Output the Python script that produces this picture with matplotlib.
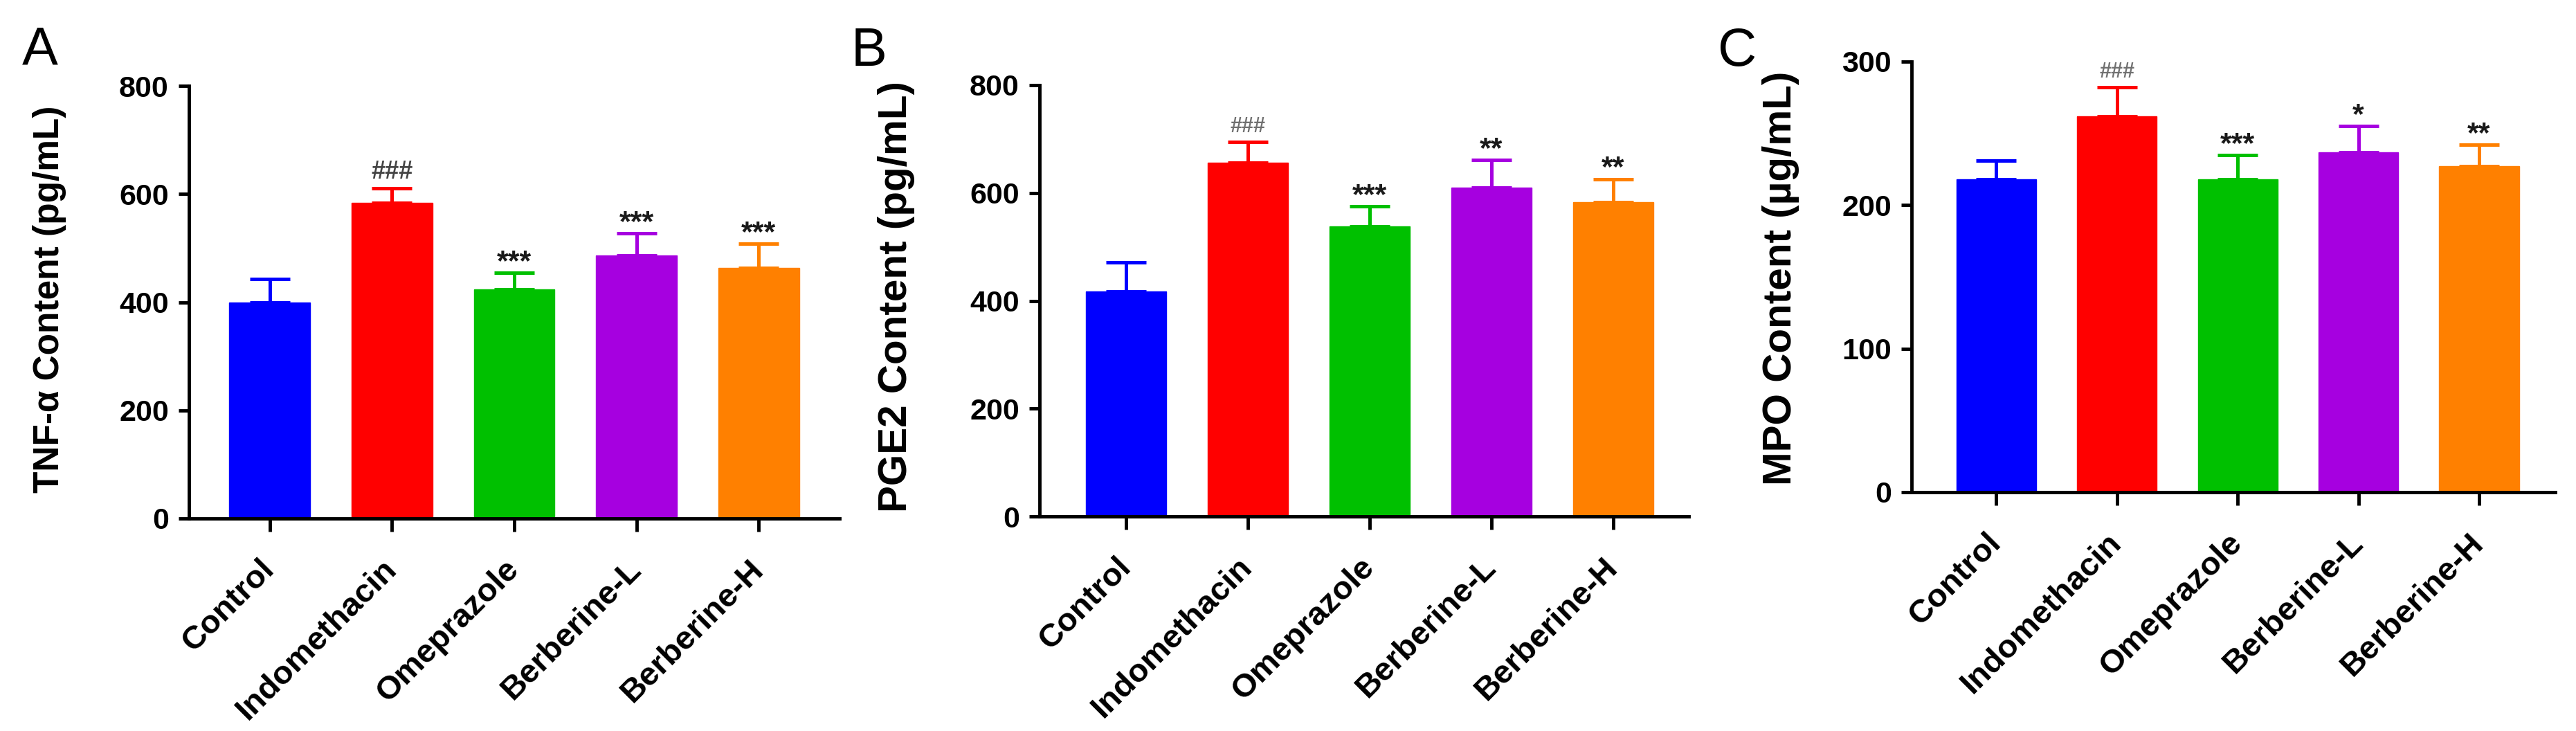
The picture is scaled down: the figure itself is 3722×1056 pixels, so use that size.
import matplotlib
matplotlib.use("Agg")
import matplotlib.pyplot as plt
import matplotlib.transforms as mtransforms

plt.rcParams['font.family'] = ['Liberation Sans', 'DejaVu Sans']

groups = ["Control", "Indomethacin", "Omeprazole", "Berberine-L", "Berberine-H"]
colors = ["#0000FF", "#FF0000", "#00C000", "#A600E0", "#FF8000"]

tnf_mean = [400, 584, 424, 487, 463]
tnf_sem = [43, 27, 30, 40, 45]
tnf_marks = ["", "###", "***", "***", "***"]

pge2_mean = [417, 656, 538, 610, 583]
pge2_sem = [54, 39, 37, 51, 43]
pge2_marks = ["", "###", "***", "**", "**"]

mpo_mean = [218, 262, 218, 237, 227]
mpo_sem = [13, 20, 17, 18, 15]
mpo_marks = ["", "###", "***", "*", "**"]

W, H = 3723, 1056
fig = plt.figure(figsize=(W / 100, H / 100), dpi=100)


def frac(left, top, right, bottom):
    return [left / W, 1 - bottom / H, (right - left) / W, (bottom - top) / H]


panels = [
    dict(rect=frac(273, 124, 1213, 749), mean=tnf_mean, sem=tnf_sem, marks=tnf_marks,
         ylabel="TNF-α Content (pg/mL)", ylim=800, ticks=[0, 200, 400, 600, 800],
         xlim=(-0.66, 4.66), lab_fs=37, lab_xy=(-0.188, 0.507), hash_fs=26,
         hash_col="#444444", letter="A", letter_xy=(32, 93)),
    dict(rect=frac(1502, 123, 2440, 746), mean=pge2_mean, sem=pge2_sem, marks=pge2_marks,
         ylabel="PGE2 Content (pg/mL)", ylim=800, ticks=[0, 200, 400, 600, 800],
         xlim=(-0.71, 4.62), lab_fs=42, lab_xy=(-0.192, 0.51), hash_fs=22,
         hash_col="#707070", letter="B", letter_xy=(1230, 95)),
    dict(rect=frac(2762, 89, 3692, 711), mean=mpo_mean, sem=mpo_sem, marks=mpo_marks,
         ylabel="MPO Content (µg/mL)", ylim=300, ticks=[0, 100, 200, 300],
         xlim=(-0.70, 4.63), lab_fs=42, lab_xy=(-0.174, 0.497), hash_fs=22,
         hash_col="#707070", letter="C", letter_xy=(2482, 95)),
]

for p in panels:
    ax = fig.add_axes(p["rect"])
    x = list(range(len(groups)))
    ax.bar(x, p["mean"], width=0.66, color=colors, edgecolor=colors, linewidth=1, zorder=2)
    for xi, m, s, c in zip(x, p["mean"], p["sem"], colors):
        ax.errorbar(xi, m, yerr=[[0], [s]], fmt="none", ecolor=c, elinewidth=3.6,
                    capsize=21, capthick=3.6, zorder=1)
    for xi, m, s, t in zip(x, p["mean"], p["sem"], p["marks"]):
        if not t:
            continue
        if t.startswith("#"):
            ax.annotate(t, xy=(xi, m + s), xytext=(0, 10), textcoords="offset points",
                        ha="center", va="baseline", fontsize=p["hash_fs"],
                        fontweight="bold", color=p["hash_col"])
        else:
            ax.annotate(t, xy=(xi, m + s), xytext=(0, 3), textcoords="offset points",
                        ha="center", va="baseline", fontsize=31,
                        fontweight="bold", color="#1a1a1a")
    ax.set_xlim(*p["xlim"])
    ax.set_ylim(0, p["ylim"])
    ax.set_yticks(p["ticks"])
    ax.set_xticks(x)
    ax.set_xticklabels(groups, rotation=45, ha="right", va="center",
                       rotation_mode="anchor", fontsize=34, fontweight="bold")
    offset = mtransforms.ScaledTranslation(18 / 100, 0, fig.dpi_scale_trans)
    for lbl in ax.get_xticklabels():
        lbl.set_transform(lbl.get_transform() + offset)
    for lbl in ax.get_yticklabels():
        lbl.set_fontsize(31)
        lbl.set_fontweight("bold")
    for side in ["top", "right"]:
        ax.spines[side].set_visible(False)
    for side in ["left", "bottom"]:
        ax.spines[side].set_linewidth(3.5)
    ax.tick_params(axis="y", length=11, width=3.5, pad=10, direction="out")
    ax.tick_params(axis="x", length=14, width=3.5, pad=34, direction="out")
    ax.set_ylabel(p["ylabel"], fontsize=p["lab_fs"], fontweight="bold")
    ax.yaxis.set_label_coords(*p["lab_xy"])
    fig.text(p["letter_xy"][0] / W, 1 - p["letter_xy"][1] / H, p["letter"],
             fontsize=56, ha="left", va="baseline")

fig.savefig("out.png", dpi=100, facecolor="white")
